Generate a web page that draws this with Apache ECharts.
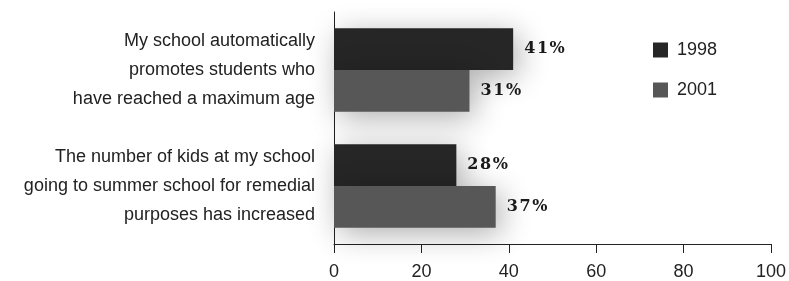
<!DOCTYPE html>
<html>
<head>
<meta charset="utf-8">
<script src="https://cdn.jsdelivr.net/npm/echarts@6/dist/echarts.min.js"></script>
<style>
  html, body { margin: 0; padding: 0; background: #fff; }
  #chart { width: 789px; height: 281px; }
</style>
</head>
<body>
<div id="chart"></div>
<script>
const categories = [
  'My school automatically\npromotes students who\nhave reached a maximum age',
  'The number of kids at my school\ngoing to summer school for remedial\npurposes has increased'
];
const seriesNames = ['1998', '2001'];
const values1998 = [41, 28];
const values2001 = [31, 37];
const xTicks = [0, 20, 40, 60, 80, 100];

const FONT = 'Liberation Sans';
const chart = echarts.init(document.getElementById('chart'));

// wide, bold serif value labels (hair spaces mimic the loose letter spacing)
const barLabel = {
  show: true,
  position: 'right',
  distance: 11,
  formatter: (p) => String(p.value).split('').concat('%').join('\u200A'),
  fontFamily: 'DejaVu Serif',
  fontWeight: 'bold',
  fontSize: 16,
  color: '#1a1a1a'
};

const shadow = {
  shadowColor: 'rgba(0,0,0,0.32)',
  shadowBlur: 30,
  shadowOffsetX: 5,
  shadowOffsetY: 6
};

chart.setOption({
  animation: false,
  backgroundColor: '#fff',
  grid: { left: 334, right: 14, top: 12, bottom: 36 },
  legend: {
    orient: 'vertical',
    left: 648,
    top: 36,
    itemWidth: 15,
    itemHeight: 15,
    itemGap: 22,
    icon: 'rect',
    textStyle: { fontFamily: FONT, fontSize: 18, color: '#222', padding: [0, 0, 0, 4] },
    data: seriesNames
  },
  xAxis: {
    type: 'value',
    min: xTicks[0],
    max: xTicks[xTicks.length - 1],
    interval: 20,
    axisLine: { show: true, lineStyle: { color: '#222', width: 1 } },
    axisTick: { show: true, length: 9, lineStyle: { color: '#222' } },
    axisLabel: { fontFamily: FONT, fontSize: 18, color: '#222', margin: 19 },
    splitLine: { show: false }
  },
  yAxis: {
    type: 'category',
    inverse: true,
    data: categories,
    axisLine: { show: true, lineStyle: { color: '#222', width: 1 } },
    axisTick: { show: false },
    axisLabel: {
      fontFamily: FONT,
      fontSize: 18,
      lineHeight: 29,
      color: '#222',
      align: 'right',
      margin: 19
    }
  },
  series: [
    {
      name: seriesNames[0],
      type: 'bar',
      data: values1998,
      barGap: '0%',
      barCategoryGap: '28%',
      itemStyle: Object.assign({ color: '#262626' }, shadow),
      label: barLabel
    },
    {
      name: seriesNames[1],
      type: 'bar',
      data: values2001,
      itemStyle: Object.assign({ color: '#575757' }, shadow),
      label: barLabel
    }
  ]
});
</script>
</body>
</html>
